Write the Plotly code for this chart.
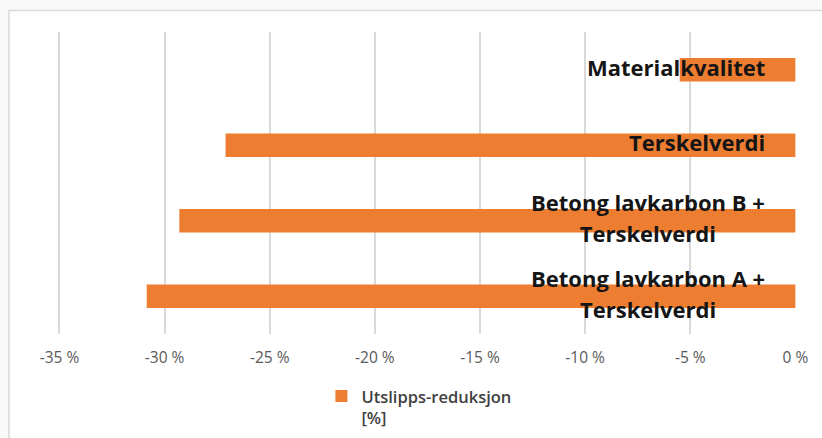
import plotly.graph_objects as go

categories = ["Betong lavkarbon A +<br>Terskelverdi",
              "Betong lavkarbon B +<br>Terskelverdi",
              "Terskelverdi",
              "Materialkvalitet"]
values = [-30.85, -29.3, -27.1, -5.5]
series_name = "Utslipps-reduksjon<br>[%]"
tick_vals = [-35, -30, -25, -20, -15, -10, -5, 0]
tick_text = ["-35 %", "-30 %", "-25 %", "-20 %", "-15 %", "-10 %", "-5 %", "0 %"]

fig = go.Figure()
fig.add_trace(go.Bar(
    y=categories, x=values, orientation="h", name=series_name,
    marker=dict(color="#ED7D31", line=dict(width=0)),
    width=0.31, showlegend=True,
))

for cat in categories:
    lines = cat.split("<br>")
    txt = "<br>".join("<span style='font-size:22px'><b>%s</b></span>" % l for l in lines)
    fig.add_annotation(x=0, y=cat, xref="x", yref="y", text=txt,
                       showarrow=False, xanchor="right", xshift=-28, yshift=3,
                       align="center",
                       font=dict(family="Open Sans", size=23.5, color="#151515"))

# outer chart frame
fig.add_shape(type="rect", xref="paper", yref="paper",
              x0=-0.0664, x1=1.2, y0=-0.6, y1=1.071,
              fillcolor="white", line=dict(color="#d9d9d9", width=1.5), layer="below")

fig.update_layout(
    width=822, height=438,
    margin=dict(l=58, r=26, t=32, b=104, autoexpand=False),
    paper_bgcolor="#f9f9f9", plot_bgcolor="rgba(0,0,0,0)",
    xaxis=dict(range=[-35.07, 0.03], tickvals=tick_vals, ticktext=tick_text,
               showgrid=True, gridcolor="#d9d9d9", gridwidth=1.5,
               zeroline=False, showline=False, ticks="",
               ticklabelstandoff=12,
               tickfont=dict(family="Open Sans", size=15.5, color="#595959")),
    yaxis=dict(showticklabels=False, showgrid=False, zeroline=False, showline=False,
               categoryorder="array", categoryarray=categories),
    legend=dict(orientation="h", xref="container", yref="container",
                x=0.391, xanchor="left", y=0.135, yanchor="top",
                bgcolor="rgba(0,0,0,0)", valign="top",
                font=dict(family="Open Sans", size=16.5, color="#404040", weight=600)),
    showlegend=True,
)

fig.write_html("out.html")
